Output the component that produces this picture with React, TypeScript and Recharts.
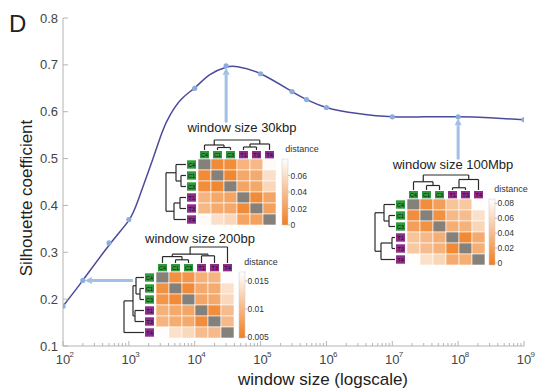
import React from "react";
import { ComposedChart, Line, Scatter, XAxis, YAxis, ReferenceLine } from "recharts";

// fitted curve
const fitX = [100, 200, 500, 1000, 1400, 2300, 3200, 4200, 6300, 10000, 17000, 30000, 45000, 100000, 300000, 500000, 1e6, 3e6, 1e7, 3e7, 1e8, 3e8, 1e9];
const fitY = [0.185, 0.24, 0.315, 0.368, 0.413, 0.498, 0.556, 0.592, 0.627, 0.651, 0.679, 0.695, 0.696, 0.681, 0.643, 0.626, 0.609, 0.596, 0.589, 0.589, 0.589, 0.587, 0.583];

// measured silhouette values
const pointX = [100, 200, 500, 1000, 10000, 30000, 100000, 300000, 500000, 1e6, 1e7, 1e8, 1e9];
const pointY = [0.185, 0.24, 0.32, 0.37, 0.65, 0.698, 0.681, 0.643, 0.626, 0.609, 0.589, 0.589, 0.583];

const yTicks = [0.1, 0.2, 0.3, 0.4, 0.5, 0.6, 0.7, 0.8];
const decades = [2, 3, 4, 5, 6, 7, 8, 9];

// arrows from inset titles to the points they describe
const arrowFrom = [{ x: 1150, y: 0.24 }, { x: 30000, y: 0.577 }, { x: 1e8, y: 0.498 }];
const arrowTo = [{ x: 215, y: 0.24 }, { x: 30000, y: 0.694 }, { x: 1e8, y: 0.586 }];

// inset heatmaps
const sampleLabels = ["C4", "C1", "C3", "T1", "T3", "T4"];
const sampleGroup = ["C", "C", "C", "T", "T", "T"];

const dist30k = [
  [null, 0.008, 0.009, 0.034, 0.036, 0.077],
  [0.008, null, 0.006, 0.026, 0.028, 0.06],
  [0.009, 0.006, null, 0.024, 0.026, 0.055],
  [0.034, 0.026, 0.024, null, 0.008, 0.024],
  [0.036, 0.028, 0.026, 0.008, null, 0.022],
  [0.077, 0.06, 0.055, 0.024, 0.022, null],
];
const dist100M = [
  [null, 0.008, 0.02, 0.045, 0.048, 0.085],
  [0.008, null, 0.01, 0.038, 0.04, 0.065],
  [0.02, 0.01, null, 0.03, 0.033, 0.058],
  [0.045, 0.038, 0.03, null, 0.005, 0.028],
  [0.048, 0.04, 0.033, 0.005, null, 0.03],
  [0.085, 0.065, 0.058, 0.028, 0.03, null],
];
const dist200 = [
  [null, 0.0065, 0.007, 0.0095, 0.0098, 0.0164],
  [0.0065, null, 0.006, 0.0088, 0.009, 0.0138],
  [0.007, 0.006, null, 0.0085, 0.0088, 0.013],
  [0.0095, 0.0088, 0.0085, null, 0.0062, 0.0105],
  [0.0098, 0.009, 0.0088, 0.0062, null, 0.0102],
  [0.0164, 0.0138, 0.013, 0.0105, 0.0102, null],
];

const tree30k = { h: 1, c: [{ h: 0.5, c: [0, { h: 0.25, c: [1, 2] }] }, { h: 0.6, c: [{ h: 0.3, c: [3, 4] }, 5] }] };
const tree100M = { h: 1, c: [{ h: 0.55, c: [0, { h: 0.3, c: [1, 2] }] }, { h: 0.7, c: [{ h: 0.15, c: [3, 4] }, 5] }] };
const tree200 = { h: 1, c: [{ h: 0.55, c: [{ h: 0.4, c: [0, { h: 0.2, c: [1, 2] }] }, { h: 0.45, c: [3, 4] }] }, 5] };

const cb30kTicks = [0, 0.02, 0.04, 0.06];
const cb100MTicks = [0, 0.02, 0.04, 0.06, 0.08];
const cb200Ticks = [0.005, 0.01, 0.015];

const FONT = "'Liberation Sans', Arial, Helvetica, sans-serif";
const FRAME = "#b4b4b4";
const TXT = "#444";
const CURVE = "#4b4b9c";
const DOT = "#8badde";
const ARROW = "#a2bfe6";

const fitData = fitX.map((x, i) => ({ x, y: fitY[i] }));
const pointData = pointX.map((x, i) => ({ x, y: pointY[i] }));

const xTicks: number[] = [];
decades.forEach((d) => {
  xTicks.push(Math.pow(10, d));
  if (d < 9) for (let m = 2; m <= 9; m++) xTicks.push(m * Math.pow(10, d));
});

const isMajor = (v: number) => Math.abs(Math.log10(v) - Math.round(Math.log10(v))) < 1e-6;

function BottomTick(props: any) {
  const { x, y, payload } = props;
  const v = payload.value;
  const major = isMajor(v);
  return (
    <g>
      <line x1={x} x2={x} y1={y} y2={y - (major ? 5 : 3)} stroke={FRAME} />
      {major && (
        <>
          <text x={x} y={y + 18} textAnchor="middle" fontSize={13} fill={TXT} fontFamily={FONT}>10</text>
          <text x={x + 6.5} y={y + 11} fontSize={8} fill={TXT} fontFamily={FONT}>{Math.round(Math.log10(v))}</text>
        </>
      )}
    </g>
  );
}

function TopTick(props: any) {
  const { x, y, payload } = props;
  const major = isMajor(payload.value);
  return <line x1={x} x2={x} y1={y} y2={y + (major ? 5 : 3)} stroke={FRAME} />;
}

function LeftTick(props: any) {
  const { x, y, payload } = props;
  return (
    <g>
      <line x1={x} x2={x + 5} y1={y} y2={y} stroke={FRAME} />
      <text x={x - 5} y={y + 4.5} textAnchor="end" fontSize={13} fill={TXT} fontFamily={FONT}>
        {payload.value.toFixed(1)}
      </text>
    </g>
  );
}

function RightTick(props: any) {
  const { x, y } = props;
  return <line x1={x} x2={x - 5} y1={y} y2={y} stroke={FRAME} />;
}

function ArrowShape(props: any) {
  const { x1, y1, x2, y2 } = props;
  if ([x1, y1, x2, y2].some((v) => v == null || isNaN(v))) return null;
  const dx = x2 - x1;
  const dy = y2 - y1;
  const len = Math.sqrt(dx * dx + dy * dy) || 1;
  const ux = dx / len;
  const uy = dy / len;
  const hl = 7;
  const hw = 3.5;
  const bx = x2 - ux * hl;
  const by = y2 - uy * hl;
  return (
    <g>
      <line x1={x1} y1={y1} x2={bx} y2={by} stroke={ARROW} strokeWidth={3} />
      <polygon
        points={`${x2},${y2} ${bx - uy * hw},${by + ux * hw} ${bx + uy * hw},${by - ux * hw}`}
        fill={ARROW}
      />
    </g>
  );
}

const CW = 13;
const CH = 11;

function heat(v: number, vmin: number, vmax: number) {
  const t = Math.max(0, Math.min(1, (v - vmin) / (vmax - vmin)));
  const lo = [239, 126, 34];
  const c = lo.map((l) => Math.round(l + (255 - l) * t));
  return `rgb(${c[0]},${c[1]},${c[2]})`;
}

type Node = number | { h: number; c: Node[] };

function dendroLines(tree: Node, leafPos: (i: number) => number) {
  const segs: { a: number; b: number; la: number; lb: number }[] = [];
  // a,b run along the leaves; la,lb are merge heights
  const walk = (n: Node): [number, number] => {
    if (typeof n === "number") return [leafPos(n), 0];
    const kids = n.c.map(walk);
    kids.forEach(([p, l]) => segs.push({ a: p, b: p, la: l, lb: n.h }));
    segs.push({ a: kids[0][0], b: kids[kids.length - 1][0], la: n.h, lb: n.h });
    return [(kids[0][0] + kids[kids.length - 1][0]) / 2, n.h];
  };
  walk(tree);
  return segs;
}

type InsetProps = {
  title: string;
  titleX: number;
  titleY: number;
  x: number;
  y: number;
  matrix: (number | null)[][];
  vmin: number;
  vmax: number;
  ticks: number[];
  tree: Node;
  topDepth: number;
  leftDepth: number;
  cbX: number;
  distX: number;
  distY: number;
  gradId: string;
};

function Inset(p: InsetProps) {
  const n = sampleLabels.length;
  const h = n * CH;
  const colC = (i: number) => p.x + (i + 0.5) * CW;
  const rowC = (i: number) => p.y + (i + 0.5) * CH;
  const topBase = p.y - 9;
  const leftBase = p.x - 12;
  const topSegs = dendroLines(p.tree, colC);
  const leftSegs = dendroLines(p.tree, rowC);
  const cbW = 6;
  const cbY = (v: number) => p.y + h - ((v - p.vmin) / (p.vmax - p.vmin)) * h;
  const boxFill = (i: number) => (sampleGroup[i] === "C" ? "#2f9a3b" : "#8e2b8c");
  return (
    <g fontFamily={FONT}>
      <text x={p.titleX} y={p.titleY} textAnchor="middle" fontSize={13} fill="#222">{p.title}</text>
      {topSegs.map((s, i) => (
        <line key={"t" + i} x1={s.a} x2={s.b} y1={topBase - s.la * p.topDepth} y2={topBase - s.lb * p.topDepth} stroke="#2a2a2a" strokeWidth={1.2} />
      ))}
      {leftSegs.map((s, i) => (
        <line key={"l" + i} y1={s.a} y2={s.b} x1={leftBase - s.la * p.leftDepth} x2={leftBase - s.lb * p.leftDepth} stroke="#2a2a2a" strokeWidth={1.2} />
      ))}
      {sampleLabels.map((lab, i) => (
        <g key={"c" + lab}>
          <rect x={colC(i) - 4.5} y={p.y - 8} width={9} height={7.5} fill={boxFill(i)} />
          <text x={colC(i)} y={p.y - 2.2} textAnchor="middle" fontSize={5.5} fill="#111">{lab}</text>
          <rect x={p.x - 11} y={rowC(i) - 4.2} width={9} height={8.4} fill={boxFill(i)} />
          <text x={p.x - 6.5} y={rowC(i) + 2} textAnchor="middle" fontSize={5.5} fill="#111">{lab}</text>
        </g>
      ))}
      {p.matrix.map((row, r) =>
        row.map((v, c) => (
          <rect
            key={r + "-" + c}
            x={p.x + c * CW}
            y={p.y + r * CH}
            width={CW}
            height={CH}
            fill={v == null ? "#86807b" : heat(v, p.vmin, p.vmax)}
            stroke="#fff"
            strokeWidth={0.6}
          />
        ))
      )}
      <defs>
        <linearGradient id={p.gradId} x1="0" y1="1" x2="0" y2="0">
          <stop offset="0" stopColor={heat(p.vmin, p.vmin, p.vmax)} />
          <stop offset="1" stopColor="#ffffff" />
        </linearGradient>
      </defs>
      <rect x={p.cbX} y={p.y} width={cbW} height={h} fill={`url(#${p.gradId})`} stroke="#ccc" strokeWidth={0.5} />
      {p.ticks.map((t) => (
        <g key={"cb" + t}>
          <line x1={p.cbX + cbW} x2={p.cbX + cbW + 2} y1={cbY(t)} y2={cbY(t)} stroke="#999" strokeWidth={0.6} />
          <text x={p.cbX + cbW + 2.5} y={cbY(t) + 3} fontSize={8.5} fill="#333">{String(t)}</text>
        </g>
      ))}
      <text x={p.distX} y={p.distY} textAnchor="middle" fontSize={9} fill="#333">distance</text>
    </g>
  );
}

export default function App() {
  return (
    <div style={{ position: "absolute", left: 0, top: 0, width: 539, height: 392, background: "#fff" }}>
      <ComposedChart width={539} height={392} margin={{ top: 18, right: 15, bottom: 0, left: 0 }}>
        <XAxis
          xAxisId={0}
          type="number"
          dataKey="x"
          scale="log"
          domain={[100, 1e9]}
          allowDataOverflow
          ticks={xTicks}
          interval={0}
          height={46}
          tickSize={0}
          tickMargin={0}
          tickLine={false}
          axisLine={{ stroke: FRAME }}
          tick={<BottomTick />}
        />
        <XAxis
          xAxisId="top"
          orientation="top"
          type="number"
          dataKey="x"
          scale="log"
          domain={[100, 1e9]}
          allowDataOverflow
          ticks={xTicks}
          interval={0}
          height={0}
          tickSize={0}
          tickMargin={0}
          tickLine={false}
          axisLine={{ stroke: FRAME }}
          tick={<TopTick />}
        />
        <YAxis
          yAxisId={0}
          type="number"
          domain={[0.1, 0.8]}
          ticks={yTicks}
          interval={0}
          width={63}
          tickSize={0}
          tickMargin={0}
          tickLine={false}
          axisLine={{ stroke: FRAME }}
          tick={<LeftTick />}
        />
        <YAxis
          yAxisId="right"
          orientation="right"
          type="number"
          domain={[0.1, 0.8]}
          ticks={yTicks}
          interval={0}
          width={0}
          tickSize={0}
          tickMargin={0}
          tickLine={false}
          axisLine={{ stroke: FRAME }}
          tick={<RightTick />}
        />
        <Line
          data={fitData}
          dataKey="y"
          type="natural"
          stroke={CURVE}
          strokeWidth={1.5}
          dot={false}
          activeDot={false}
          isAnimationActive={false}
        />
        {arrowFrom.map((a, i) => (
          <ReferenceLine key={i} segment={[a, arrowTo[i]]} shape={ArrowShape} ifOverflow="visible" />
        ))}
        <Scatter
          data={pointData}
          dataKey="y"
          isAnimationActive={false}
          shape={(p: any) => <circle cx={p.cx} cy={p.cy} r={2.6} fill={DOT} />}
        />
      </ComposedChart>
      <svg width={539} height={392} style={{ position: "absolute", left: 0, top: 0, pointerEvents: "none" }}>
        <text x={9} y={32} fontSize={24} fill="#222" fontFamily={FONT}>D</text>
        <text transform="translate(32,198) rotate(-90)" textAnchor="middle" fontSize={17} fill="#222" fontFamily={FONT}>
          Silhouette coefficient
        </text>
        <text x={323} y={385} textAnchor="middle" fontSize={17} fill="#222" fontFamily={FONT}>
          window size (logscale)
        </text>
        <Inset
          title="window size 30kbp" titleX={242} titleY={132}
          x={198} y={159} matrix={dist30k} vmin={0} vmax={0.08} ticks={cb30kTicks}
          tree={tree30k} topDepth={10} leftDepth={20} cbX={282} distX={302} distY={152} gradId="g30k"
        />
        <Inset
          title="window size 100Mbp" titleX={453} titleY={169}
          x={407} y={199} matrix={dist100M} vmin={-0.003} vmax={0.086} ticks={cb100MTicks}
          tree={tree100M} topDepth={15} leftDepth={20} cbX={489} distX={511} distY={192} gradId="g100M"
        />
        <Inset
          title="window size 200bp" titleX={200} titleY={243}
          x={156} y={272} matrix={dist200} vmin={0.0048} vmax={0.0166} ticks={cb200Ticks}
          tree={tree200} topDepth={16} leftDepth={20} cbX={239} distX={261} distY={265} gradId="g200"
        />
      </svg>
    </div>
  );
}
